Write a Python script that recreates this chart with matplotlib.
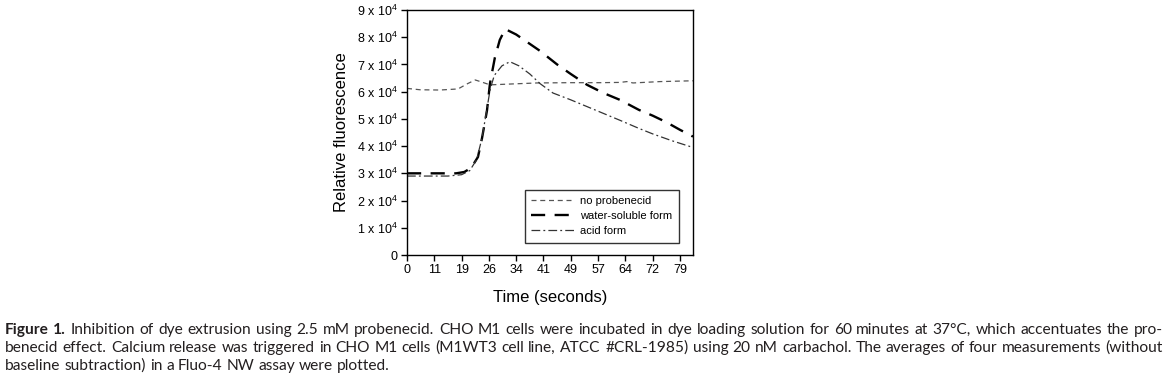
import numpy as np
import matplotlib
matplotlib.use("Agg")
import matplotlib.pyplot as plt
from matplotlib import font_manager

# ------------------------------
# DATA (x in read index, one read per tick)
# ------------------------------
time_labels = ["0", "11", "19", "26", "34", "41", "49", "57", "64", "72", "79"]
y_ticks = [0, 1e4, 2e4, 3e4, 4e4, 5e4, 6e4, 7e4, 8e4, 9e4]
y_labels = ["0"] + ["%d x 10$^{4}$" % k for k in range(1, 10)]

no_prob_x = [0, 0.48, 1.2, 1.87, 2.23, 2.5, 2.75, 3.04, 3.77, 4.76, 5.97,
             7.07, 7.8, 8.06, 8.28, 9.27, 10.48]
no_prob_y = [6.12e4, 6.07e4, 6.06e4, 6.1e4, 6.3e4, 6.43e4, 6.35e4, 6.25e4,
             6.28e4, 6.32e4, 6.33e4, 6.33e4, 6.34e4, 6.37e4, 6.32e4, 6.37e4, 6.4e4]

water_x = [0, 1.8, 2.1, 2.35, 2.6, 2.75, 2.93, 3.04, 3.22, 3.4, 3.6, 4.0,
           4.87, 5.5, 6.0, 6.6, 7.2, 7.8, 8.5, 9.0, 9.5, 10.0, 10.48]
water_y = [3.0e4, 3.0e4, 3.05e4, 3.2e4, 3.6e4, 4.3e4, 5.3e4, 6.3e4, 7.25e4,
           7.9e4, 8.3e4, 8.1e4, 7.5e4, 7.0e4, 6.65e4, 6.25e4, 5.95e4, 5.7e4,
           5.33e4, 5.12e4, 4.88e4, 4.6e4, 4.35e4]

acid_x = [0, 1.5, 2.0, 2.3, 2.55, 2.75, 2.9, 3.05, 3.2, 3.48, 3.77, 4.1,
          4.5, 4.87, 5.35, 6.0, 6.6, 7.2, 7.8, 8.5, 9.0, 9.7, 10.48]
acid_y = [2.9e4, 2.9e4, 2.95e4, 3.1e4, 3.5e4, 4.3e4, 5.2e4, 6.1e4, 6.6e4,
          6.95e4, 7.1e4, 6.95e4, 6.65e4, 6.3e4, 5.95e4, 5.7e4, 5.45e4, 5.2e4,
          4.95e4, 4.65e4, 4.45e4, 4.2e4, 3.95e4]

caption = [
    "Figure 1. Inhibition of dye extrusion using 2.5 mM probenecid. CHO M1 cells were incubated in dye loading solution for 60 minutes at 37\u00b0C, which accentuates the pro-",
    "benecid effect. Calcium release was triggered in CHO M1 cells (M1WT3 cell line, ATCC #CRL-1985) using 20 nM carbachol. The averages of four measurements (without",
    "baseline subtraction) in a Fluo-4 NW assay were plotted.",
]

# ------------------------------
# FIGURE
# ------------------------------
plt.rcParams["font.family"] = ["Liberation Sans", "DejaVu Sans"]
plt.rcParams["mathtext.default"] = "regular"

W, H = 1166, 377
fig = plt.figure(figsize=(W / 100, H / 100), dpi=100)
ax = fig.add_axes([407 / W, 1 - 255 / H, (693 - 407) / W, (255 - 10) / H])

ax.plot(no_prob_x, no_prob_y, color="#555555", lw=0.9, dashes=(4, 3),
        label="no probenecid")
ax.plot(water_x, water_y, color="black", lw=1.7, dashes=(6, 4),
        label="water-soluble form")
ax.plot(acid_x, acid_y, color="#333333", lw=0.9, dashes=(7, 2.5, 1.5, 2.5),
        label="acid form")

ax.set_xlim(0, 10.48)
ax.set_ylim(0, 9e4)
ax.set_xticks(range(len(time_labels)))
ax.set_xticklabels(time_labels)
ax.set_yticks(y_ticks)
ax.set_yticklabels(y_labels)
ax.tick_params(direction="out", length=4.5, width=1, labelsize=9, pad=2)
for s in ax.spines.values():
    s.set_linewidth(1)

ax.set_xlabel("Time (seconds)", fontsize=12, labelpad=10)
ax.set_ylabel("Relative fluorescence", fontsize=12, labelpad=6)

leg = ax.legend(loc="lower right", bbox_to_anchor=(0.951, 0.049),
                borderaxespad=0, fontsize=8, frameon=True, fancybox=False,
                edgecolor="black", handlelength=3.8, handletextpad=0.6,
                labelspacing=0.45, borderpad=0.6)
leg.get_frame().set_linewidth(1)

# ------------------------------
# CAPTION (justified)
# ------------------------------
fig.canvas.draw()
r = fig.canvas.get_renderer()
names = {f.name for f in font_manager.fontManager.ttflist}
cap_font = ["Liberation Sans Narrow", "Lato", "DejaVu Sans"]
cap_font = [f for f in cap_font if f in names] or ["DejaVu Sans"]


def measure(s, weight, size):
    t = fig.text(0, 0, s, fontsize=size, fontweight=weight, family=cap_font)
    w = t.get_window_extent(r).width
    t.remove()
    return w


def words_of(line, first):
    ws = line.split(" ")
    return [(w, "bold" if (first and i < 2) else "normal") for i, w in enumerate(ws)]


size = 11.5
x0, x1 = 5, 1163
space = measure("a b", "normal", size) - measure("ab", "normal", size)
nat = []
for i, line in enumerate(caption[:2]):
    ws = words_of(line, i == 0)
    nat.append(sum(measure(w, wt, size) for w, wt in ws) + (len(ws) - 1) * space)
size = size * min(1.0, (x1 - x0 - 4) / max(nat))
space = measure("a b", "normal", size) - measure("ab", "normal", size)

ys = [334, 352, 370]
for i, line in enumerate(caption):
    ws = words_of(line, i == 0)
    widths = [measure(w, wt, size) for w, wt in ws]
    if i < 2:
        gap = (x1 - x0 - sum(widths)) / (len(ws) - 1)
    else:
        gap = space
    x = x0
    for (w, wt), wd in zip(ws, widths):
        fig.text(x / W, 1 - ys[i] / H, w, fontsize=size, fontweight=wt,
                 family=cap_font, va="baseline", ha="left", color="#231f20")
        x += wd + gap

fig.savefig("out.png", dpi=100)
